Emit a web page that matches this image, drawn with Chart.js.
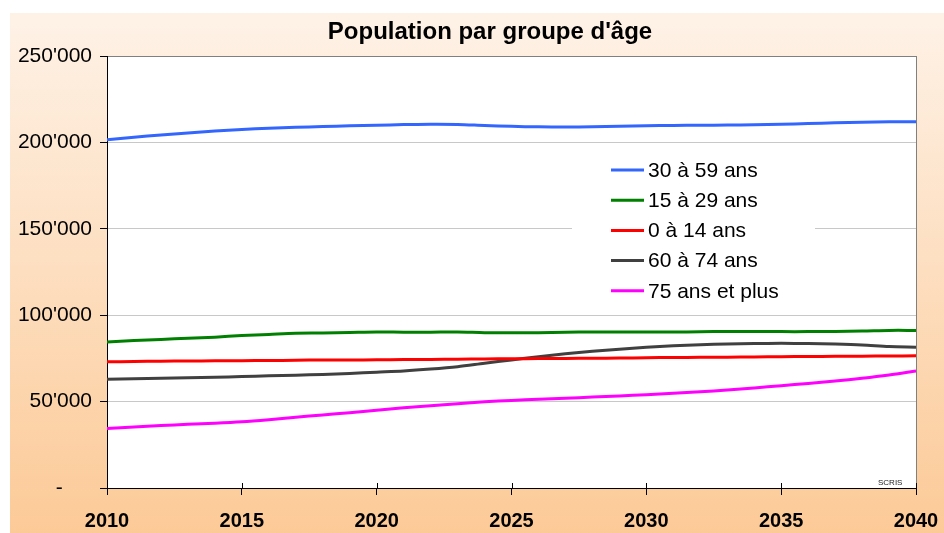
<!DOCTYPE html>
<html>
<head>
<meta charset="utf-8">
<script src="https://cdn.jsdelivr.net/npm/chart.js@4.4.1/dist/chart.umd.min.js"></script>
<style>
  html, body { margin: 0; padding: 0; background: #ffffff; }
  canvas { display: block; }
</style>
</head>
<body>
<canvas id="c" width="944" height="533"></canvas>
<script>
const years = [2010,2011,2012,2013,2014,2015,2016,2017,2018,2019,2020,2021,2022,2023,2024,2025,2026,2027,2028,2029,2030,2031,2032,2033,2034,2035,2036,2037,2038,2039,2040];

const seriesLabels = ["30 à 59 ans", "15 à 29 ans", "0 à 14 ans", "60 à 74 ans", "75 ans et plus"];

const age30to59 = [201500,203000,204300,205500,206600,207500,208200,208700,209200,209600,209900,210300,210500,210400,209800,209300,209000,208900,209000,209300,209600,209800,209900,210000,210200,210500,210900,211300,211700,211900,212000];
const age15to29 = [84500,85300,86000,86600,87300,88200,88900,89600,89700,90000,90300,90200,90200,90300,89900,89800,89900,90100,90300,90300,90300,90300,90400,90600,90600,90500,90500,90600,90800,91200,91200];
const age0to14 = [73000,73200,73400,73500,73600,73700,73800,73900,74100,74100,74200,74300,74400,74500,74700,74800,74900,75000,75100,75200,75400,75500,75600,75700,75800,76000,76100,76200,76300,76400,76500];
const age60to74 = [62900,63200,63500,63800,64100,64500,64900,65300,65700,66300,67000,67700,68800,70200,72200,74100,76000,77700,79100,80300,81400,82300,82900,83300,83600,83700,83600,83300,82800,81900,81500];
const age75plus = [34500,35300,36100,36900,37500,38300,39500,40900,42300,43600,45000,46400,47600,48800,49900,50700,51400,52000,52600,53300,54000,54800,55700,56700,57900,59200,60500,61900,63500,65400,67700];

const yTicks = [0, 50000, 100000, 150000, 200000, 250000];
const xTicks = [2010, 2015, 2020, 2025, 2030, 2035, 2040];

const titleText = "Population par groupe d'âge";
const sourceText = "SCRIS";

const colors = ["#3366FF", "#008000", "#FF0000", "#404040", "#FF00FF"];
const FONT = "'Liberation Sans', Arial, sans-serif";

const allSeries = [age30to59, age15to29, age0to14, age60to74, age75plus];

function fmt(v) {
  if (v === 0) return "-     ";
  return String(v).replace(/\B(?=(\d{3})+(?!\d))/g, "'");
}

const decor = {
  id: 'decor',
  beforeDraw(chart) {
    const ctx = chart.ctx;
    const a = chart.chartArea;
    ctx.save();
    ctx.fillStyle = '#ffffff';
    ctx.fillRect(0, 0, chart.width, chart.height);
    const g = ctx.createLinearGradient(0, 13, 0, chart.height);
    g.addColorStop(0, '#FEF2E7');
    g.addColorStop(1, '#FCCA97');
    ctx.fillStyle = g;
    ctx.fillRect(10, 13, chart.width - 10, chart.height - 13);
    ctx.fillStyle = '#ffffff';
    ctx.fillRect(a.left, a.top, a.right - a.left, a.bottom - a.top);
    ctx.fillStyle = '#000000';
    ctx.font = 'bold 24px ' + FONT;
    ctx.textAlign = 'center';
    ctx.textBaseline = 'middle';
    ctx.fillText(titleText, 490, 32);
    ctx.restore();
  },
  afterDraw(chart) {
    const ctx = chart.ctx;
    const a = chart.chartArea;
    const xs = chart.scales.x;
    ctx.save();
    // right border
    ctx.strokeStyle = '#808080';
    ctx.lineWidth = 1;
    ctx.beginPath();
    ctx.moveTo(a.right + 0.5, a.top);
    ctx.lineTo(a.right + 0.5, a.bottom);
    ctx.stroke();
    // inner part of x ticks
    ctx.strokeStyle = '#000000';
    xTicks.forEach(t => {
      const px = Math.round(xs.getPixelForValue(t)) + 0.5;
      ctx.beginPath();
      ctx.moveTo(px, a.bottom - 5);
      ctx.lineTo(px, a.bottom);
      ctx.stroke();
    });
    // legend
    ctx.fillStyle = '#ffffff';
    ctx.fillRect(572, 153, 243, 155);
    ctx.font = '21px ' + FONT;
    ctx.textAlign = 'left';
    ctx.textBaseline = 'middle';
    chart.data.datasets.forEach((ds, i) => {
      const y = 170 + i * 30.2;
      ctx.strokeStyle = ds.borderColor;
      ctx.lineWidth = 3;
      ctx.beginPath();
      ctx.moveTo(611, y);
      ctx.lineTo(644, y);
      ctx.stroke();
      ctx.fillStyle = '#000000';
      ctx.fillText(ds.label, 648, y + 1);
    });
    // source
    ctx.font = '8px ' + FONT;
    ctx.fillStyle = '#222222';
    ctx.textAlign = 'left';
    ctx.fillText(sourceText, 878, 483);
    ctx.restore();
  }
};

new Chart(document.getElementById('c'), {
  type: 'line',
  data: {
    datasets: seriesLabels.map((lab, i) => ({
      label: lab,
      data: years.map((yr, k) => ({ x: yr, y: allSeries[i][k] })),
      borderColor: colors[i],
      backgroundColor: colors[i],
      borderWidth: 3,
      pointRadius: 0,
      tension: 0.3,
      fill: false
    }))
  },
  options: {
    responsive: false,
    animation: false,
    devicePixelRatio: 1,
    layout: { padding: { top: 56, right: 28, left: 0, bottom: 0 } },
    plugins: {
      legend: { display: false },
      title: { display: false },
      tooltip: { enabled: false }
    },
    scales: {
      x: {
        type: 'linear',
        min: 2010,
        max: 2040,
        afterBuildTicks(scale) { scale.ticks = xTicks.map(v => ({ value: v })); },
        afterFit(scale) {
          scale.height = 45;
          scale.paddingLeft = 0;
          scale.paddingRight = 0;
        },
        ticks: {
          callback: v => String(v),
          font: { family: FONT, size: 20, weight: 'bold' },
          color: '#000000',
          padding: 14,
          maxRotation: 0,
          autoSkip: false
        },
        grid: {
          drawOnChartArea: false,
          drawTicks: true,
          tickLength: 7,
          tickColor: '#000000'
        },
        border: { color: '#000000', width: 1 }
      },
      y: {
        min: 0,
        max: 250000,
        afterBuildTicks(scale) { scale.ticks = yTicks.map(v => ({ value: v })); },
        afterFit(scale) {
          scale.width = 107;
          scale.paddingTop = 0;
          scale.paddingBottom = 0;
        },
        ticks: {
          callback: v => fmt(v),
          font: { family: FONT, size: 21 },
          color: '#000000',
          padding: 8
        },
        grid: {
          color: ctx => (ctx.tick && ctx.tick.value === 250000) ? '#808080' : '#C8C8C8',
          lineWidth: 1,
          tickLength: 7,
          tickColor: '#000000'
        },
        border: { color: '#000000', width: 1 }
      }
    }
  },
  plugins: [decor]
});
</script>
</body>
</html>
